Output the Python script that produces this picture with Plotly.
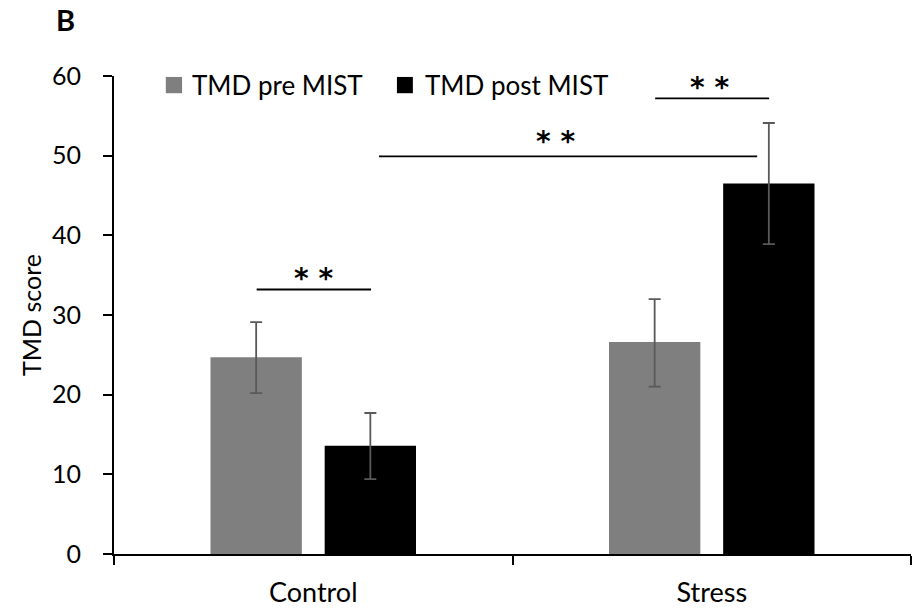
import plotly.graph_objects as go

categories = ["Control", "Stress"]
series_names = ["TMD pre MIST", "TMD post MIST"]
pre_values = [24.7, 26.6]
post_values = [13.6, 46.5]
pre_upper = [29.1, 32.0]
pre_lower = [20.2, 21.0]
post_upper = [17.7, 54.1]
post_lower = [9.4, 38.9]
y_ticks = [0, 10, 20, 30, 40, 50, 60]

# significance brackets: (x0, x1, y, label_x, label_y, label)
brackets = [
    (-0.142, 0.145, 33.2, 0.0, 35.1, "* *"),
    (0.165, 1.114, 49.9, 0.607, 52.4, "* *"),
    (0.858, 1.144, 57.2, 0.995, 59.1, "* *"),
]

FONT = "Lato"
colors = ["#7f7f7f", "#000000"]

fig = go.Figure()
for name, vals, up, lo, col in [
    (series_names[0], pre_values, pre_upper, pre_lower, colors[0]),
    (series_names[1], post_values, post_upper, post_lower, colors[1]),
]:
    fig.add_trace(go.Bar(
        x=categories, y=vals, name=name, marker=dict(color=col, line=dict(width=0)),
        error_y=dict(type="data", symmetric=False,
                     array=[u - v for u, v in zip(up, vals)],
                     arrayminus=[v - l for v, l in zip(vals, lo)],
                     color="#595959", thickness=1.8, width=6),
        showlegend=False,
    ))

shapes = []
annotations = []
for x0, x1, y, lx, ly, lab in brackets:
    shapes.append(dict(type="line", xref="x", yref="y", x0=x0, x1=x1, y0=y, y1=y,
                       line=dict(color="black", width=1.8)))
    annotations.append(dict(x=lx, y=ly, xref="x", yref="y", text="<b>" + lab + "</b>",
                            showarrow=False, yanchor="bottom", yshift=-23,
                            font=dict(family="DejaVu Sans", size=28, color="black")))

# manual legend
leg = [(0.065, 0.0854, 0.0954, series_names[0], colors[0]),
       (0.355, 0.375, 0.388, series_names[1], colors[1])]
for sx0, sx1, tx, name, col in leg:
    shapes.append(dict(type="rect", xref="paper", yref="paper", x0=sx0, x1=sx1,
                       y0=0.964, y1=0.998, fillcolor=col, line=dict(width=0)))
    annotations.append(dict(x=tx, y=0.981, xref="paper", yref="paper", text=name,
                            showarrow=False, xanchor="left", yanchor="middle",
                            font=dict(family=FONT, size=26, color="black")))

annotations.append(dict(x=(54 - 114) / 797, y=(554 - 20) / 478, xref="paper", yref="paper",
                        text="<b>B</b>", showarrow=False, xanchor="left", yanchor="middle",
                        font=dict(family=FONT, size=29, color="black")))

fig.update_layout(
    width=912, height=611,
    margin=dict(l=114, r=1, t=76, b=57, pad=0),
    paper_bgcolor="white", plot_bgcolor="white",
    barmode="group", bargap=0.427, bargroupgap=0.2,
    font=dict(family=FONT, size=24, color="black"),
    shapes=shapes, annotations=annotations,
    xaxis=dict(showline=True, linecolor="black", linewidth=2, ticks="outside",
               tickson="boundaries", ticklen=9, tickwidth=1.5, tickcolor="black",
               showgrid=False, tickfont=dict(size=27, color="black"), range=[-0.5, 1.5],
               ticklabelstandoff=14),
    yaxis=dict(range=[0, 60], tickvals=y_ticks, showline=True, linecolor="black",
               linewidth=2, ticks="outside", ticklen=9, tickwidth=1.5, tickcolor="black",
               showgrid=False, zeroline=False, tickfont=dict(size=25, color="black"),
               ticklabelstandoff=17,
               title=dict(text="TMD score", font=dict(size=25, color="black"), standoff=3)),
)

fig.write_html("out.html")
